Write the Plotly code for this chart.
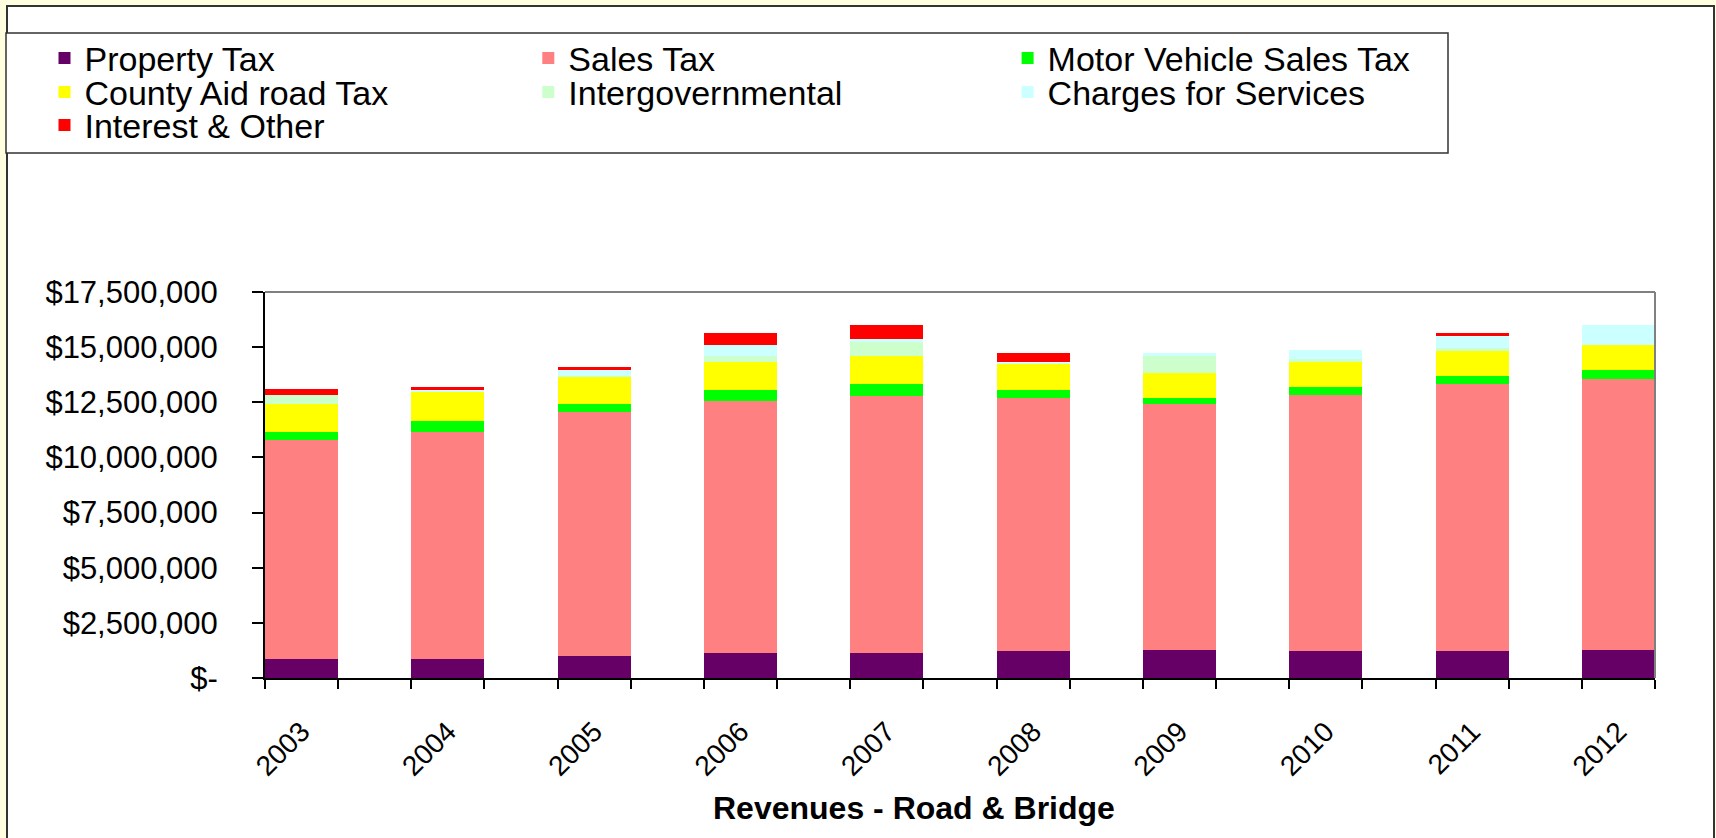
import plotly.graph_objects as go

years = [2003, 2004, 2005, 2006, 2007, 2008, 2009, 2010, 2011, 2012]
year_labels = [str(y) for y in years]

property_tax = [860000, 860000, 1000000, 1130000, 1130000, 1220000, 1270000, 1220000, 1220000, 1270000]
sales_tax = [9930000, 10290000, 11050000, 11420000, 11660000, 11480000, 11150000, 11600000, 12110000, 12270000]
motor_vehicle = [350000, 490000, 360000, 510000, 540000, 360000, 280000, 360000, 350000, 410000]
county_aid = [1280000, 1330000, 1270000, 1270000, 1270000, 1180000, 1130000, 1150000, 1190000, 1130000]
intergov = [400000, 30000, 20000, 270000, 650000, 30000, 770000, 120000, 80000, 0]
charges = [0, 40000, 250000, 480000, 100000, 40000, 130000, 410000, 540000, 910000]
interest = [270000, 140000, 140000, 550000, 640000, 420000, 0, 0, 140000, 0]

series_names = ["Property Tax", "Sales Tax", "Motor Vehicle Sales Tax",
                "County Aid road Tax", "Intergovernmental", "Charges for Services",
                "Interest & Other"]
series_values = [property_tax, sales_tax, motor_vehicle, county_aid, intergov, charges, interest]
series_colors = ["#660066", "#FF8080", "#00FF00", "#FFFF00", "#CCFFCC", "#CCFFFF", "#FF0000"]

y_tickvals = [0, 2500000, 5000000, 7500000, 10000000, 12500000, 15000000, 17500000]
y_ticktext = ["$-", "$2,500,000", "$5,000,000", "$7,500,000", "$10,000,000",
              "$12,500,000", "$15,000,000", "$17,500,000"]

BAR_W = 0.5
FONT = "Liberation Sans, Arial, sans-serif"

W, H = 1716, 838
ML, MR, MT, MB = 265, 61, 292, 160
PW, PH = W - ML - MR, H - MT - MB

# legend grid (pixel positions of each entry: column left, row centre)
LEG_COLS = [44.5, 528.3, 1007.6]
LEG_ROWS = [58.5, 92.3, 125.3]


def px_x(px):
    return (px - ML) / PW


def px_y(py):
    return (H - MB - py) / PH


fig = go.Figure()
legend_layouts = {}
for i, (name, vals, col) in enumerate(zip(series_names, series_values, series_colors)):
    lg = "legend" if i == 0 else f"legend{i + 1}"
    fig.add_trace(go.Bar(x=years, y=vals, name=name, marker=dict(color=col, line=dict(width=0)),
                         width=BAR_W, legend=lg, showlegend=True))
    legend_layouts[lg] = dict(
        orientation="h", xref="container", yref="container",
        x=LEG_COLS[i % 3] / W, xanchor="left",
        y=1 - LEG_ROWS[i // 3] / H, yanchor="middle",
        bgcolor="rgba(0,0,0,0)", borderwidth=0, visible=True,
        font=dict(family=FONT, size=34, color="black"))

edges = sorted([y - BAR_W / 2 for y in years] + [y + BAR_W / 2 for y in years])

fig.update_layout(
    width=W, height=H,
    margin=dict(l=ML, r=MR, t=MT, b=MB),
    paper_bgcolor="#FFFFE0",
    plot_bgcolor="white",
    barmode="stack",
    showlegend=True,
    font=dict(family=FONT, color="black"),
    xaxis=dict(type="linear", range=[years[0] - BAR_W / 2, years[-1] + BAR_W / 2],
               tickvals=years, ticktext=year_labels, ticks="", tickangle=-45,
               tickfont=dict(family=FONT, size=28, color="black"),
               showline=True, linecolor="black", linewidth=2, showgrid=False, zeroline=False,
               ticklabelstandoff=24,
               minor=dict(tickvals=edges, ticks="outside", ticklen=9, tickcolor="black",
                          tickwidth=1.5, showgrid=False)),
    yaxis=dict(range=[0, 17500000], tickvals=y_tickvals, ticktext=y_ticktext,
               ticks="outside", ticklen=11, tickcolor="black", tickwidth=1.5,
               tickfont=dict(family=FONT, size=31, color="black"),
               showline=True, linecolor="black", linewidth=2, showgrid=False, zeroline=False,
               ticklabelstandoff=28),
    shapes=[
        dict(type="rect", xref="paper", yref="paper", x0=px_x(7), x1=px_x(1714),
             y0=px_y(850), y1=px_y(6), fillcolor="white", line=dict(color="#333333", width=2),
             layer="below"),
        dict(type="rect", xref="paper", yref="paper", x0=px_x(6), x1=px_x(1448),
             y0=px_y(153), y1=px_y(33), fillcolor="white", line=dict(color="#333333", width=1.5),
             layer="below"),
        dict(type="line", xref="paper", yref="paper", x0=0, x1=1, y0=1, y1=1,
             line=dict(color="#808080", width=2), layer="above"),
        dict(type="line", xref="paper", yref="paper", x0=1, x1=1, y0=0, y1=1,
             line=dict(color="#808080", width=2), layer="above"),
    ],
    annotations=[
        dict(text="<b>Revenues - Road & Bridge</b>", xref="paper", yref="paper",
             x=px_x(913.5), y=px_y(808), xanchor="center", yanchor="middle", showarrow=False,
             font=dict(family=FONT, size=32, color="black")),
    ],
    **legend_layouts,
)

fig.write_html("out.html", config={"displayModeBar": False},
               post_script="document.body.style.margin='0px';")
